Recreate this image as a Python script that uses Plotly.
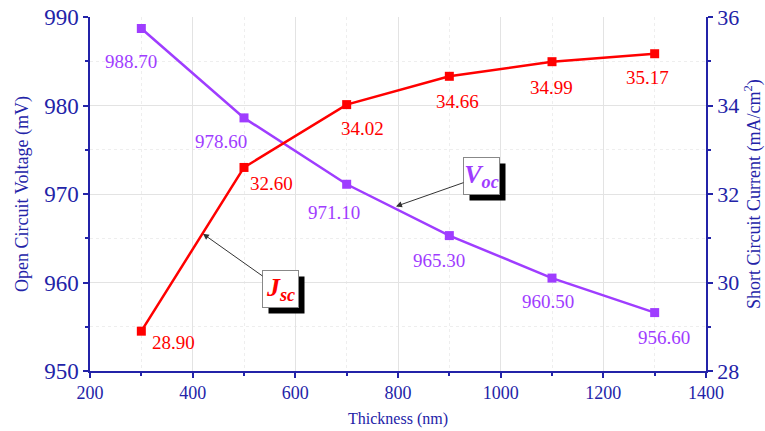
import plotly.graph_objects as go

thickness = [300, 500, 700, 900, 1100, 1300]
voc = [988.70, 978.60, 971.10, 965.30, 960.50, 956.60]
jsc = [28.90, 32.60, 34.02, 34.66, 34.99, 35.17]

x_ticks = [200, 400, 600, 800, 1000, 1200, 1400]
y_left_ticks = [950, 960, 970, 980, 990]
y_right_ticks = [28, 30, 32, 34, 36]

# label pixel offsets (style only)
voc_dx = [-10, -23, -13, -10, -4, 9]
voc_dy = [-33, -24, -28, -25, -23, -25]
jsc_dx = [32, 27, 16, 8, -1, -7]
jsc_dy = [-11, -16, -24, -25, -26, -24]

AX = "#2323A8"
PURPLE = "#9F3DFF"
RED = "#FF0000"
FONT = "Liberation Serif"

fig = go.Figure()
fig.add_trace(go.Scatter(x=thickness, y=voc, mode="lines+markers",
                         line=dict(color=PURPLE, width=2.5),
                         marker=dict(symbol="square", size=9, color=PURPLE),
                         yaxis="y", showlegend=False, cliponaxis=False))
fig.add_trace(go.Scatter(x=thickness, y=jsc, mode="lines+markers",
                         line=dict(color=RED, width=2.5),
                         marker=dict(symbol="square", size=9, color=RED),
                         yaxis="y2", showlegend=False, cliponaxis=False))

ann = []
for x, v, dx, dy in zip(thickness, voc, voc_dx, voc_dy):
    ann.append(dict(x=x, y=v, xref="x", yref="y", text=f"{v:.2f}", showarrow=False,
                    xshift=dx, yshift=dy, font=dict(family=FONT, size=19, color=PURPLE)))
for x, v, dx, dy in zip(thickness, jsc, jsc_dx, jsc_dy):
    ann.append(dict(x=x, y=v, xref="x", yref="y2", text=f"{v:.2f}", showarrow=False,
                    xshift=dx, yshift=dy, font=dict(family=FONT, size=19, color=RED)))

def callout(bx, by, hx, hy, text, color):
    # shadow
    ann.append(dict(x=bx, y=by, xref="x", yref="y", text=" ", showarrow=False,
                    bgcolor="black", width=35, height=36, xshift=6, yshift=-6,
                    borderpad=0))
    ann.append(dict(x=hx, y=hy, xref="x", yref="y", ax=bx, ay=by, axref="x", ayref="y",
                    text=text, showarrow=True, arrowhead=2, arrowsize=1.2, arrowwidth=1,
                    arrowcolor="#333333", bgcolor="white", bordercolor="#888888",
                    borderwidth=1, width=35, height=36, borderpad=0,
                    font=dict(family=FONT, size=26, color=color)))

callout(962.7, 972.0, 796, 968.6, "<b><i>V<sub>oc</sub></i></b>", PURPLE)
callout(571, 959.3, 420, 965.5, "<b><i>J<sub>sc</sub></i></b>", RED)

fig.update_layout(
    width=765, height=431,
    margin=dict(l=90, r=59, t=17, b=60, autoexpand=False),
    plot_bgcolor="white", paper_bgcolor="white",
    font=dict(family=FONT, color=AX),
    annotations=ann,
    xaxis=dict(range=[200, 1400], tickvals=x_ticks, showline=True, linecolor=AX, linewidth=1.5,
               ticks="outside", ticklen=5, tickcolor=AX, tickwidth=1.5, automargin=False,
               ticklabeloverflow="allow",
               tickfont=dict(family=FONT, size=18, color=AX),
               showgrid=True, gridcolor="#e3e3e3", gridwidth=1, zeroline=False,
               minor=dict(dtick=100, tick0=200, ticks="outside", ticklen=3, tickcolor=AX,
                          showgrid=True, gridcolor="#eeeeee", griddash="dot"),
               title=dict(text="Thickness (nm)", font=dict(family=FONT, size=16, color=AX),
                          standoff=10)),
    yaxis=dict(range=[950, 990], tickvals=y_left_ticks, showline=True, linecolor=AX, linewidth=1.5,
               ticks="outside", ticklen=5, tickcolor=AX, tickwidth=1.5, automargin=False,
               ticklabeloverflow="allow",
               tickfont=dict(family=FONT, size=23, color=AX),
               showgrid=True, gridcolor="#e3e3e3", gridwidth=1, zeroline=False,
               minor=dict(dtick=5, tick0=950, ticks="outside", ticklen=3, tickcolor=AX,
                          showgrid=True, gridcolor="#eeeeee", griddash="dot"),
               title=dict(text="Open Circuit Voltage (mV)", font=dict(family=FONT, size=18, color=AX),
                          standoff=11)),
    yaxis2=dict(range=[28, 36], tickvals=y_right_ticks, overlaying="y", side="right",
                showline=True, linecolor=AX, linewidth=1.5, automargin=False,
                ticklabeloverflow="allow",
                ticks="outside", ticklen=5, tickcolor=AX, tickwidth=1.5,
                tickfont=dict(family=FONT, size=22, color=AX),
                showgrid=False, zeroline=False,
                minor=dict(dtick=1, tick0=28, ticks="outside", ticklen=3, tickcolor=AX, showgrid=False),
                title=dict(text="Short Circuit Current (mA/cm<sup>2</sup>)",
                           font=dict(family=FONT, size=18, color=AX), standoff=12)),
)

fig.write_html("out.html", config={"displayModeBar": False},
               post_script="document.body.style.margin='0';")
